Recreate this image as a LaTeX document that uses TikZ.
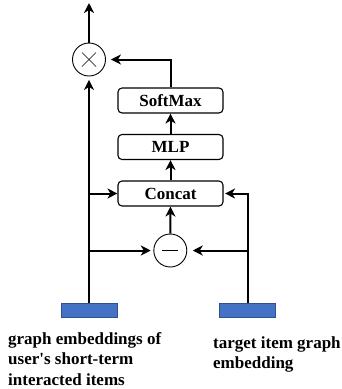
\documentclass[tikz,border=0pt]{standalone}
\usepackage{fontspec}
\setmainfont{Liberation Serif}
\usetikzlibrary{arrows.meta}
\definecolor{embblue}{HTML}{4472C4}
\definecolor{embedge}{HTML}{2F528F}
\begin{document}
\begin{tikzpicture}[x=1pt,y=-1pt,
  conn/.style={line width=2pt,-{Stealth[length=10pt,width=10pt,inset=3pt]}},
  opbox/.style={draw,line width=1.1pt,rounded corners=4pt,minimum width=105pt,minimum height=25pt,inner sep=0pt,font=\fontsize{17}{20}\selectfont\bfseries},
  opcirc/.style={draw,circle,line width=0.9pt,minimum size=33pt,inner sep=0pt},
  opsign/.style={line width=0.7pt},
  emb/.style={draw=embedge,fill=embblue,line width=0.6pt,minimum width=56pt,minimum height=14pt,inner sep=0pt},
  lbl/.style={font=\fontsize{17}{20.5}\selectfont\bfseries,align=left,inner sep=0pt,anchor=base west}
]
\useasboundingbox (0,0) rectangle (342,389);
\node[opbox] (soft) at (170.5,100.5) {SoftMax};
\node[opbox] (mlp) at (170.5,147) {MLP};
\node[opbox] (cat) at (170.5,193.5) {Concat};
\node[opcirc] (mul) at (89,59.5) {};
\node[opcirc] (sub) at (170.3,250.5) {};
\draw[opsign] ([shift={(-7pt,-7pt)}]mul.center) -- ([shift={(7pt,7pt)}]mul.center);
\draw[opsign] ([shift={(-7pt,7pt)}]mul.center) -- ([shift={(7pt,-7pt)}]mul.center);
\draw[opsign] ([xshift=-8pt]sub.center) -- ([xshift=8pt]sub.center);
\node[emb] (ue) at (89,310) {};
\node[emb] (te) at (247.5,310) {};
\coordinate (out) at (89,3);
\draw[conn] (mul.north) -- (out);
\draw[conn,shorten >=3.5pt] (ue.north) -- (mul.south);
\draw[conn,shorten >=5pt] (soft.north) |- (mul.east);
\draw[conn] (mlp.north) -- (soft.south);
\draw[conn] (cat.north) -- (mlp.south);
\draw[conn] (sub.north) -- (cat.south);
\draw[conn] (ue.north |- cat.west) -- (cat.west);
\draw[conn,shorten >=2.6pt] (ue.north |- sub.west) -- (sub.west);
\draw[conn,shorten >=1.5pt] (te.north) |- (cat.east);
\draw[conn,shorten >=5.5pt] (te.north |- sub.east) -- (sub.east);
\node[lbl] (ltxt) at (8,385) {graph embeddings of\\user\textquotesingle s short-term\\interacted items};
\node[lbl] (rtxt) at (213,368.5) {target item graph\\embedding};
\end{tikzpicture}
\end{document}
